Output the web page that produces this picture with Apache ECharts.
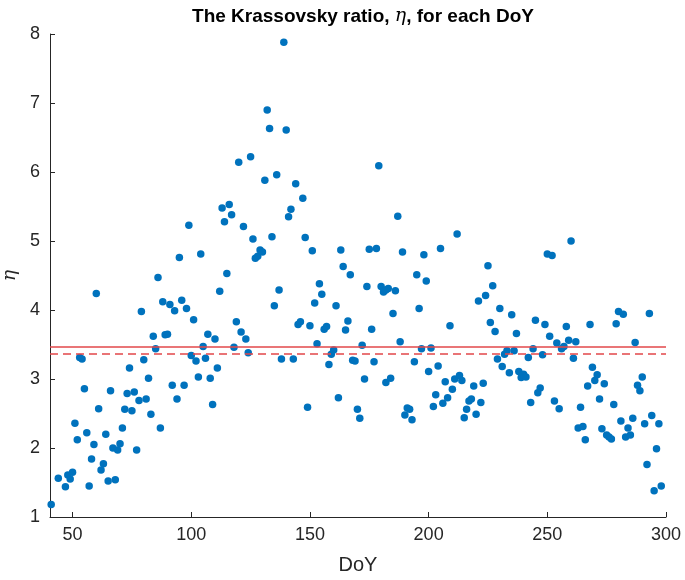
<!DOCTYPE html>
<html>
<head>
<meta charset="utf-8">
<script src="https://cdn.jsdelivr.net/npm/echarts@6/dist/echarts.min.js"></script>
<style>
  html, body { margin: 0; padding: 0; background: #fff; }
  #chart { width: 685px; height: 580px; }
</style>
</head>
<body>
<div id="chart"></div>
<script>
// Day of year for each observation
const doy = [
  41, 44, 47, 48, 49, 50, 51, 52, 53, 54, 55, 56, 57, 58, 59, 60, 61, 62, 63, 64,
  65, 66, 67, 68, 69, 70, 71, 72, 73, 74, 75, 76, 77, 78, 79, 80, 81, 82, 83, 84,
  85, 86, 87, 88, 89, 90, 91, 92, 93, 94, 95, 96, 97, 98, 99, 100, 101, 102, 103, 104,
  105, 106, 107, 108, 109, 110, 111, 112, 113, 114, 115, 116, 117, 118, 119, 120, 121, 122, 123, 124,
  125, 126, 127, 128, 129, 130, 131, 132, 133, 134, 135, 136, 137, 138, 139, 140, 141, 142, 143, 144,
  145, 146, 147, 148, 149, 150, 151, 152, 153, 154, 155, 156, 157, 158, 159, 160, 161, 162, 163, 164,
  165, 166, 167, 168, 169, 170, 171, 172, 173, 174, 175, 176, 177, 178, 179, 180, 181, 182, 182, 183,
  184, 185, 186, 187, 188, 189, 190, 191, 192, 193, 194, 195, 196, 197, 198, 199, 200, 201, 202, 203,
  204, 205, 206, 207, 208, 209, 210, 211, 212, 213, 214, 215, 216, 217, 218, 219, 220, 221, 222, 223,
  224, 225, 226, 227, 228, 229, 230, 231, 232, 233, 234, 235, 236, 237, 238, 239, 240, 241, 242, 243,
  244, 245, 246, 247, 248, 249, 250, 251, 252, 253, 254, 255, 256, 257, 258, 259, 260, 261, 262, 263,
  264, 265, 266, 267, 268, 269, 270, 271, 272, 273, 274, 275, 276, 277, 278, 279, 280, 281, 282, 283,
  284, 285, 286, 287, 288, 289, 290, 291, 292, 293, 294, 295, 296, 297, 298
];

// Krassovsky ratio for each observation
const eta = [
  1.18, 1.56, 1.44, 1.61, 1.55, 1.65, 2.36, 2.12, 3.31, 3.29, 2.86, 2.22, 1.45, 1.84, 2.05, 4.24, 2.57, 1.68, 1.77, 2.20,
  1.52, 2.83, 2.00, 1.54, 1.97, 2.06, 2.29, 2.56, 2.79, 3.16, 2.54, 2.81, 1.97, 2.69, 3.98, 3.28, 2.71, 3.01, 2.49, 3.62,
  3.44, 4.47, 2.29, 4.12, 3.64, 3.65, 4.08, 2.91, 3.99, 2.71, 4.76, 4.14, 2.91, 4.02, 5.23, 3.34, 3.86, 3.26, 3.03, 4.81,
  3.47, 3.30, 3.65, 3.01, 2.63, 3.58, 3.16, 4.27, 5.48, 5.28, 4.53, 5.53, 5.38, 3.46, 3.83, 6.14, 3.68, 5.21, 3.58, 3.38,
  6.22, 5.03, 4.75, 4.78, 4.87, 4.84, 5.88, 6.90, 6.63, 5.06, 4.06, 5.96, 4.29, 3.29, 7.88, 6.61, 5.35, 5.46, 3.29, 5.83,
  3.79, 3.83, 5.62, 5.05, 2.59, 3.77, 4.86, 4.10, 3.51, 4.38, 4.23, 3.72, 3.76, 3.21, 3.36, 3.42, 4.06, 2.73, 4.87, 4.63,
  3.71, 3.84, 4.51, 3.27, 3.26, 2.56, 2.43, 3.49, 3.00, 4.34, 4.88, 3.72, 3.25, 4.89, 6.09, 4.34, 4.26, 4.29, 2.95, 4.31,
  3.01, 3.95, 4.28, 5.36, 3.54, 4.84, 2.48, 2.58, 2.56, 2.41, 3.25, 4.51, 4.02, 3.44, 4.80, 4.42, 3.11, 3.45, 2.60, 2.77,
  3.19, 4.89, 2.65, 2.96, 2.73, 3.77, 2.85, 3.00, 5.10, 3.05, 2.98, 2.44, 2.56, 2.68, 2.71, 2.90, 2.49, 4.13, 2.66, 2.94,
  4.21, 4.64, 3.82, 4.35, 3.69, 3.29, 4.02, 3.18, 3.36, 3.41, 3.09, 3.93, 3.41, 3.66, 3.11, 3.02, 3.07, 3.03, 3.31, 2.66,
  3.44, 3.85, 2.80, 2.87, 3.35, 3.79, 4.81, 3.62, 4.79, 2.68, 3.52, 2.57, 3.44, 3.47, 3.76, 3.56, 5.00, 3.30, 3.54, 2.29,
  2.59, 2.31, 2.12, 2.90, 3.79, 3.17, 2.98, 3.06, 2.71, 2.28, 2.93, 2.19, 2.16, 2.13, 2.63, 3.80, 3.98, 2.39, 3.94, 2.16,
  2.29, 2.19, 2.43, 3.53, 2.91, 2.83, 3.03, 2.35, 1.76, 3.95, 2.47, 1.38, 1.99, 2.35, 1.45
];

// Reference levels drawn across the whole axis
const etaMean = [3.47];
const etaMedian = [3.36];

// Axis ticks
const xTicks = [50, 100, 150, 200, 250, 300];
const yTicks = [1, 2, 3, 4, 5, 6, 7, 8];

const axisColor = '#262626';
const sansFont = 'Liberation Sans, Arial, sans-serif';
const serifFont = 'DejaVu Serif, Liberation Serif, serif';
const points = doy.map((d, i) => [d, eta[i]]);

const chart = echarts.init(document.getElementById('chart'), null, { renderer: 'canvas' });
chart.setOption({
  animation: false,
  backgroundColor: '#ffffff',
  title: {
    text: 'The Krassovsky ratio, {e|η}, for each DoY',
    left: 358,
    textAlign: 'center',
    top: 2,
    textStyle: {
      fontFamily: sansFont,
      fontWeight: 'bold',
      fontSize: 19,
      color: '#000000',
      rich: {
        e: {
          fontFamily: serifFont,
          fontStyle: 'italic',
          fontWeight: 'normal',
          fontSize: 19,
          color: '#000000'
        }
      }
    }
  },
  grid: { left: 50, right: 19, top: 34, bottom: 63, containLabel: false, outerBoundsMode: 'none' },
  xAxis: {
    type: 'value',
    min: 40.5,
    max: 300,
    name: 'DoY',
    nameLocation: 'middle',
    nameGap: 38,
    nameTextStyle: { fontFamily: sansFont, fontSize: 20, color: axisColor },
    axisLine: { show: true, onZero: false, lineStyle: { color: axisColor, width: 1 } },
    axisTick: { show: true, inside: true, length: 5, customValues: xTicks, lineStyle: { color: axisColor } },
    axisLabel: { customValues: xTicks, fontFamily: sansFont, fontSize: 18, color: axisColor, margin: 9 },
    splitLine: { show: false }
  },
  yAxis: {
    type: 'value',
    min: yTicks[0],
    max: yTicks[yTicks.length - 1],
    interval: 1,
    name: 'η',
    nameLocation: 'middle',
    nameGap: 29,
    nameRotate: 90,
    nameTextStyle: { fontFamily: serifFont, fontStyle: 'italic', fontSize: 19, color: axisColor },
    axisLine: { show: true, onZero: false, lineStyle: { color: axisColor, width: 1 } },
    axisTick: { show: true, inside: true, length: 5, lineStyle: { color: axisColor } },
    axisLabel: { fontFamily: sansFont, fontSize: 18, color: axisColor, margin: 10 },
    splitLine: { show: false }
  },
  series: [
    {
      type: 'scatter',
      data: points,
      symbol: 'circle',
      symbolSize: 7.5,
      itemStyle: { color: '#0072BD', opacity: 1 },
      silent: true,
      markLine: {
        silent: true,
        symbol: ['none', 'none'],
        label: { show: false },
        animation: false,
        data: [
          { yAxis: etaMean[0], lineStyle: { color: '#E2474A', width: 1.5, type: 'solid' } },
          { yAxis: etaMedian[0], lineStyle: { color: '#E2474A', width: 1.5, type: [8, 5] } }
        ]
      }
    }
  ]
});
</script>
</body>
</html>
